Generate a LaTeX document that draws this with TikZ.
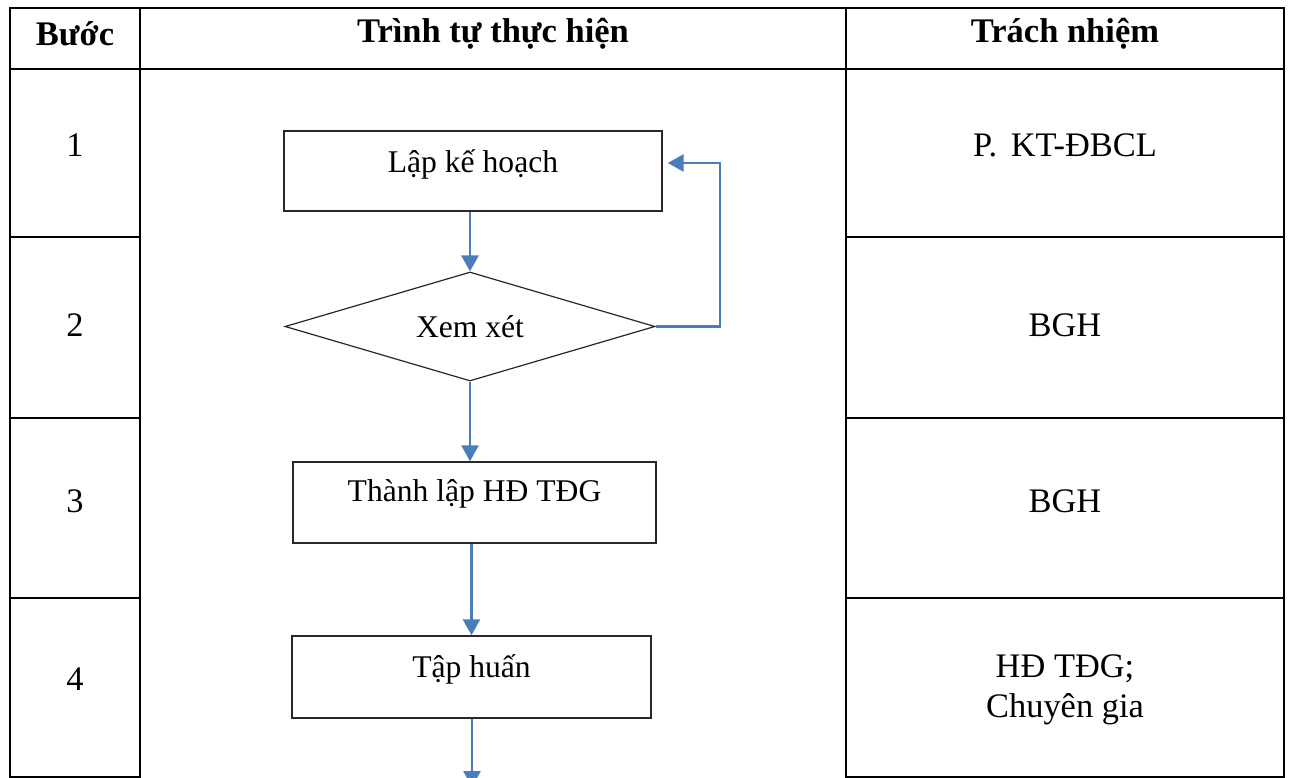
\documentclass[tikz,border=0pt]{standalone}
\usepackage{fontspec}
\setmainfont{Liberation Serif}
\usetikzlibrary{shapes.geometric,arrows.meta,calc}
\definecolor{flowblue}{RGB}{74,126,187}
\definecolor{boxline}{RGB}{40,40,40}

\begin{document}
\begin{tikzpicture}[x=1pt,y=-1pt,
  grid/.style={line width=2.6pt, black, line cap=rect},
  headtext/.style={font=\fontsize{34.5}{40}\selectfont\bfseries, inner sep=0pt},
  celltext/.style={font=\fontsize{34.4}{40}\selectfont, align=center, inner sep=0pt},
  stepbox/.style={draw=boxline, line width=1.4pt, rectangle, inner sep=0pt},
  decision/.style={draw=boxline, line width=1.2pt, diamond, inner sep=0pt},
  flowtext/.style={font=\fontsize{31.6}{36}\selectfont, inner sep=0pt},
  flow/.style={draw=flowblue, line width=2.8pt, -{Triangle[length=16pt,width=17pt]}}]

% page frame
\clip (0,0) rectangle (1290,778);
\fill[white] (0,0) rectangle (1290,778);

% table rules
\draw[grid] (10,8) -- (1284,8);
\draw[grid] (10,69) -- (1284,69);
\foreach \x in {10,140,846,1284} \draw[grid] (\x,8) -- (\x,777);
\foreach \y in {237,418,598,777} {
  \draw[grid] (10,\y) -- (140,\y);
  \draw[grid] (846,\y) -- (1284,\y);
}

% header
\node[headtext] (hstep) at (75,34) {Bước};
\node[headtext] (hseq)  at (493,34) {Trình tự thực hiện};
\node[headtext] (hresp) at (1065,34) {Trách nhiệm};

% step numbers
\node[celltext] (n1) at (75,145) {1};
\node[celltext] (n2) at (75,325) {2};
\node[celltext] (n3) at (75,501) {3};
\node[celltext] (n4) at (75,679) {4};

% responsibilities
\node[celltext] (r1) at (1065,145) {P.\hspace{0.4em}KT-ĐBCL};
\node[celltext] (r2) at (1065,325) {BGH};
\node[celltext] (r3) at (1065,501) {BGH};
\node[celltext] (r4) at (1065,690) {HĐ TĐG;\\Chuyên gia};

% flowchart shapes
\node[stepbox, minimum width=378pt, minimum height=80pt] (plan) at (473,171) {};
\node[flowtext] (plant) at ([yshift=7pt]plan.center) {Lập kế hoạch};

\node[decision, minimum width=370pt, minimum height=109pt] (review) at (470,326.5) {};
\node[flowtext] (reviewt) at (review.center) {Xem xét};

\node[stepbox, minimum width=363pt, minimum height=81pt] (form) at (474.5,502.5) {};
\node[flowtext] (formt) at ([yshift=9pt]form.center) {Thành lập HĐ TĐG};

\node[stepbox, minimum width=359pt, minimum height=82pt] (train) at (471.5,677) {};
\node[flowtext] (traint) at ([yshift=8pt]train.center) {Tập huấn};

% connectors
\coordinate (loop) at (720,163);
\coordinate (next) at (472,787);
\draw[flow] (review.north |- plan.south) -- (review.north);
\draw[flow] (review.east) -| (loop) -- ([xshift=5pt]plan.east |- loop);
\draw[flow] (review.south) -- (review.south |- form.north);
\draw[flow] (train.north |- form.south) -- (train.north);
\draw[flow] (train.south -| next) -- (next);
\end{tikzpicture}
\end{document}
